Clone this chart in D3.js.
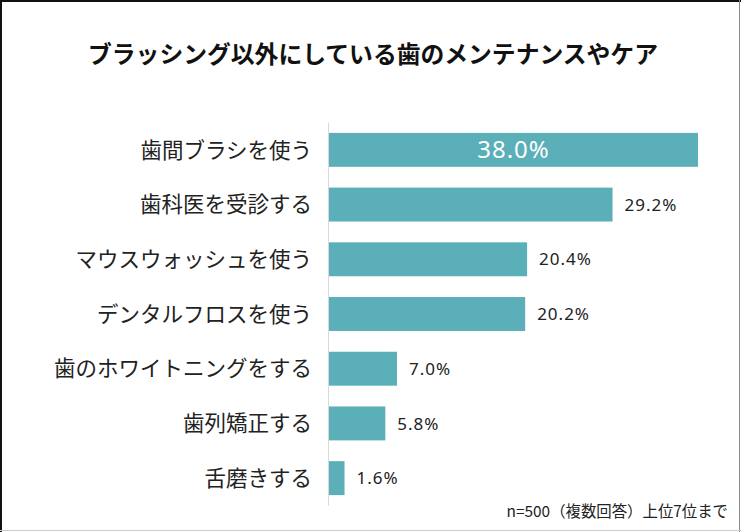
<!DOCTYPE html>
<html>
<head>
<meta charset="utf-8">
<script src="https://cdn.jsdelivr.net/npm/d3@7"></script>
<style>
  body { margin: 0; background: #fff; }
  svg { display: block; }
</style>
</head>
<body>
<svg id="chart" width="741" height="532"></svg>
<script>
// data
var categories = ["歯間ブラシを使う", "歯科医を受診する", "マウスウォッシュを使う", "デンタルフロスを使う",
                  "歯のホワイトニングをする", "歯列矯正する", "舌磨きする"];
var values = [38.0, 29.2, 20.4, 20.2, 7.0, 5.8, 1.6];
var title = "ブラッシング以外にしている歯のメンテナンスやケア";
var note = "n=500（複数回答）上位7位まで";

var data = categories.map(function(c, i) { return {name: c, value: values[i]}; });

var svg = d3.select("#chart");
var W = 741, H = 532;
var font = "'Noto Sans CJK JP', 'Noto Sans', sans-serif";

// frame
svg.append("rect").attr("x", 0).attr("y", 0).attr("width", W).attr("height", H).attr("fill", "#fff");
svg.append("line").attr("x1", 0).attr("x2", W).attr("y1", 1).attr("y2", 1).attr("stroke", "#111").attr("stroke-width", 2);
svg.append("line").attr("x1", 1).attr("x2", 1).attr("y1", 0).attr("y2", H).attr("stroke", "#111").attr("stroke-width", 2);
svg.append("line").attr("x1", W - 1.5).attr("x2", W - 1.5).attr("y1", 0).attr("y2", H).attr("stroke", "#888").attr("stroke-width", 1);
svg.append("line").attr("x1", 0).attr("x2", W).attr("y1", H - 1.5).attr("y2", H - 1.5).attr("stroke", "#ccc").attr("stroke-width", 1);

var x = d3.scaleLinear().domain([0, 38]).range([329, 698]);
var y = d3.scaleBand().domain(categories).range([122.5, 505.5]).paddingInner(0.38).paddingOuter(0.19);

svg.append("text")
    .attr("x", 373).attr("y", 63)
    .attr("text-anchor", "middle")
    .style("font-family", font).style("font-size", "23.8px").style("font-weight", "bold")
    .attr("fill", "#111")
    .text(title);

svg.selectAll("rect.bar").data(data).enter().append("rect")
    .attr("class", "bar")
    .attr("x", x(0))
    .attr("y", function(d) { return y(d.name); })
    .attr("width", function(d) { return x(d.value) - x(0); })
    .attr("height", y.bandwidth())
    .attr("fill", "#5aafb8");

// axis line
svg.append("line")
    .attr("x1", 328.5).attr("x2", 328.5)
    .attr("y1", 122.5).attr("y2", 505.5)
    .attr("stroke", "#d9d9d9").attr("stroke-width", 1);

svg.selectAll("text.cat").data(data).enter().append("text")
    .attr("class", "cat")
    .attr("x", 312)
    .attr("y", function(d) { return y(d.name) + y.bandwidth() / 2; })
    .attr("dy", "0.36em")
    .attr("text-anchor", "end")
    .style("font-family", font).style("font-size", "21.5px")
    .attr("fill", "#222")
    .text(function(d) { return d.name; });

svg.selectAll("text.val").data(data).enter().append("text")
    .attr("class", "val")
    .attr("x", function(d, i) { return i === 0 ? (x(0) + x(d.value)) / 2 : x(d.value) + 12; })
    .attr("y", function(d) { return y(d.name) + y.bandwidth() / 2; })
    .attr("dy", "0.36em")
    .attr("text-anchor", function(d, i) { return i === 0 ? "middle" : "start"; })
    .style("font-family", "'Noto Sans', sans-serif")
    .style("font-size", function(d, i) { return i === 0 ? "24px" : "17px"; })
    .style("letter-spacing", "1px")
    .attr("fill", function(d, i) { return i === 0 ? "#fff" : "#222"; })
    .text(function(d) { return d.value.toFixed(1) + "%"; });

svg.append("text")
    .attr("x", 728).attr("y", 517)
    .attr("text-anchor", "end")
    .style("font-family", font).style("font-size", "15.4px")
    .attr("fill", "#222")
    .text(note);
</script>
</body>
</html>
